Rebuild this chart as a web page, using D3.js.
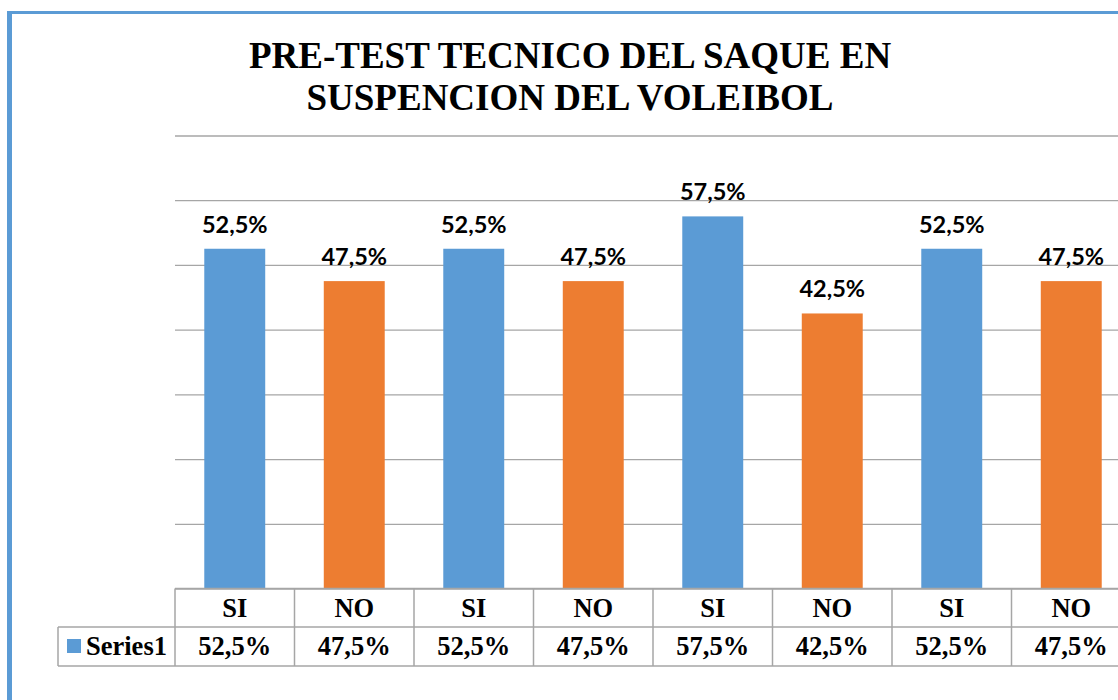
<!DOCTYPE html>
<html>
<head>
<meta charset="utf-8">
<script src="https://cdn.jsdelivr.net/npm/d3@7"></script>
<style>
  html, body { margin: 0; padding: 0; background: #fff; overflow: hidden; }
</style>
</head>
<body>
<div id="canvas"></div>
<script>
const titleLines = ["PRE-TEST TECNICO DEL SAQUE EN", "SUSPENCION DEL VOLEIBOL"];
const categories = ["SI", "NO", "SI", "NO", "SI", "NO", "SI", "NO"];
const values = [52.5, 47.5, 52.5, 47.5, 57.5, 42.5, 52.5, 47.5];
const seriesName = "Series1";
const gridTicks = [0, 10, 20, 30, 40, 50, 60, 70];

const W = 1118, H = 700;
const plotLeft = 175, colW = 119.5;
const plotTop = 135.5, plotBottom = 588.5;
const blue = "#5b9bd5", orange = "#ed7d31", gridColor = "#a6a6a6";
const serifFont = "'Liberation Serif', 'Times New Roman', 'DejaVu Serif', serif";

const locale = d3.formatLocale({ decimal: ",", thousands: ".", grouping: [3], currency: ["", "€"] });
const fmt = v => locale.format(".1f")(v) + "%";

const svg = d3.select("#canvas")
  .append("svg")
    .attr("width", W)
    .attr("height", H);

// outer chart border (blue, only left and top visible)
svg.append("rect").attr("x", 7).attr("y", 11).attr("width", 5).attr("height", H).style("fill", blue);
svg.append("rect").attr("x", 7).attr("y", 11).attr("width", W).attr("height", 3).style("fill", blue);

// title
const title = svg.append("text")
  .attr("text-anchor", "middle")
  .style("font-family", serifFont)
  .style("font-weight", "bold")
  .style("font-size", "37px");
title.selectAll("tspan")
  .data(titleLines)
  .enter().append("tspan")
    .attr("x", 570)
    .attr("y", (d, i) => 68 + i * 42)
    .text(d => d);
const t0 = title.select("tspan").node().getComputedTextLength();
if (Math.abs(t0 - 646) > 20) title.style("font-size", (37 * 646 / t0) + "px");

const xScale = d3.scaleBand()
  .domain(d3.range(categories.length))
  .range([plotLeft, plotLeft + colW * categories.length])
  .paddingInner(0.49)
  .paddingOuter(0.245);

const yScale = d3.scaleLinear()
  .domain([0, 70])
  .range([plotBottom, plotTop]);

// horizontal grid lines
svg.append("g")
  .attr("class", "grid")
  .attr("transform", `translate(${plotLeft}, 0)`)
  .call(d3.axisLeft(yScale).tickValues(gridTicks).tickSize(-(colW * categories.length)).tickFormat(""))
  .call(g => g.select(".domain").remove())
  .selectAll("line")
  .style("stroke", gridColor)
  .style("stroke-width", 1.3);

// bars
svg.selectAll(".bar")
  .data(values)
  .enter().append("rect")
  .attr("class", "bar")
  .attr("x", (d, i) => xScale(i))
  .attr("y", d => yScale(d))
  .attr("width", xScale.bandwidth())
  .attr("height", d => yScale(0) - yScale(d))
  .style("fill", (d, i) => i % 2 === 0 ? blue : orange);

// data labels
svg.selectAll(".label")
  .data(values)
  .enter().append("text")
  .attr("class", "label")
  .attr("x", (d, i) => xScale(i) + xScale.bandwidth() / 2)
  .attr("y", d => yScale(d) - 16)
  .attr("text-anchor", "middle")
  .style("font-family", "Lato, 'Open Sans', sans-serif")
  .style("font-weight", "bold")
  .style("font-size", "23.5px")
  .style("fill", "#000")
  .text(d => fmt(d));

// data table under the axis
const rowTop = plotBottom, row1 = 627, row2 = 666, legendLeft = 58;
const tableRight = plotLeft + colW * categories.length;
const table = svg.append("g").attr("class", "data-table");
const cellFont = sel => sel
  .style("font-family", serifFont)
  .style("font-weight", "bold")
  .style("font-size", "26.5px")
  .style("fill", "#000");

// horizontal borders
[[plotLeft, rowTop], [legendLeft, row1], [legendLeft, row2]].forEach(([x0, yy]) => {
  table.append("line")
    .attr("x1", x0).attr("x2", tableRight)
    .attr("y1", yy).attr("y2", yy)
    .style("stroke", gridColor).style("stroke-width", 1.5);
});
// vertical borders
d3.range(categories.length + 1).forEach(i => {
  const xx = plotLeft + colW * i;
  table.append("line")
    .attr("x1", xx).attr("x2", xx)
    .attr("y1", rowTop).attr("y2", row2)
    .style("stroke", gridColor).style("stroke-width", 1.5);
});
table.append("line")
  .attr("x1", legendLeft).attr("x2", legendLeft)
  .attr("y1", row1).attr("y2", row2)
  .style("stroke", gridColor).style("stroke-width", 1.5);

// legend key
table.append("rect")
  .attr("x", 67).attr("y", 639)
  .attr("width", 14).attr("height", 14)
  .style("fill", blue);
table.append("text")
  .attr("x", 86)
  .attr("y", 655)
  .call(cellFont)
  .text(seriesName);

table.selectAll(".cat")
  .data(categories)
  .enter().append("text")
  .attr("class", "cat")
  .attr("x", (d, i) => xScale(i) + xScale.bandwidth() / 2)
  .attr("y", 617)
  .attr("text-anchor", "middle")
  .call(cellFont)
  .text(d => d);

table.selectAll(".val")
  .data(values)
  .enter().append("text")
  .attr("class", "val")
  .attr("x", (d, i) => xScale(i) + xScale.bandwidth() / 2)
  .attr("y", 655)
  .attr("text-anchor", "middle")
  .call(cellFont)
  .text(d => fmt(d));
</script>
</body>
</html>
